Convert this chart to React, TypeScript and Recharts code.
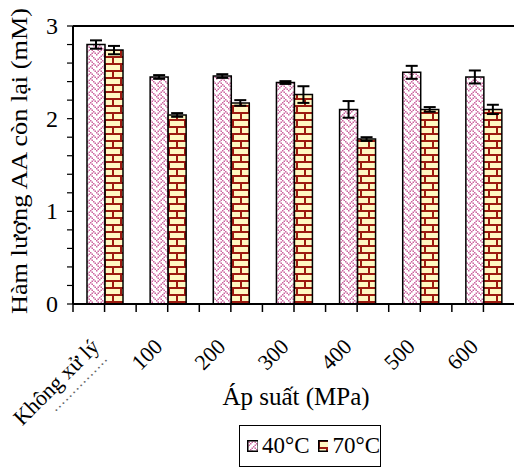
import React from "react";
import { BarChart, Bar, XAxis, YAxis, ErrorBar, ReferenceLine, Legend } from "recharts";

// Hàm lượng AA còn lại sau xử lý áp suất cao, ở 40°C và 70°C
const apSuat = ["Không xử lý", "100", "200", "300", "400", "500", "600"];
const aa40 = [2.8, 2.45, 2.46, 2.39, 2.1, 2.5, 2.45];
const aa70 = [2.74, 2.04, 2.17, 2.26, 1.78, 2.1, 2.1];
const sai40 = [0.045, 0.02, 0.02, 0.015, 0.09, 0.07, 0.07];
const sai70 = [0.045, 0.02, 0.03, 0.09, 0.02, 0.025, 0.05];
const vachY = [0, 0.2, 0.4, 0.6, 0.8, 1, 1.2, 1.4, 1.6, 1.8, 2, 2.2, 2.4, 2.6, 2.8, 3];

const duLieu = apSuat.map((ten, i) => ({
  ten,
  t40: aa40[i],
  e40: sai40[i],
  t70: aa70[i],
  e70: sai70[i],
}));

const FONT = "'Liberation Serif', 'Times New Roman', serif";
const RONG = 520;
const CAO = 472;
const LE = { top: 26, right: 5, bottom: 0, left: 0 };
const TRUC_Y = 73;
const BANG = (RONG - LE.right - TRUC_Y) / apSuat.length;

// bit 8x8 kiểu "weave" của Excel
const weave = [0x88, 0x54, 0x22, 0x45, 0x88, 0x14, 0x22, 0x51];

function MauNen() {
  const o: JSX.Element[] = [];
  weave.forEach((hang, r) => {
    for (let c = 0; c < 8; c++) {
      if (hang & (0x80 >> c)) {
        o.push(<rect key={r + "-" + c} x={c * 1.5} y={r * 1.5} width={1.5} height={1.5} fill="#cc66a0" />);
      }
    }
  });
  return (
    <svg width={0} height={0} style={{ position: "absolute" }}>
      <defs>
        <pattern id="dan-40" patternUnits="userSpaceOnUse" width={12} height={12}>
          <rect width={12} height={12} fill="#fff" />
          {o}
        </pattern>
        <pattern id="gach-70" patternUnits="userSpaceOnUse" width={16} height={14}>
          <rect width={16} height={14} fill="#fff8c2" />
          <rect x={0} y={0} width={16} height={2} fill="#9c1a10" />
          <rect x={0} y={7} width={16} height={2} fill="#9c1a10" />
          <rect x={0} y={2} width={2} height={5} fill="#9c1a10" />
          <rect x={8} y={9} width={2} height={5} fill="#9c1a10" />
        </pattern>
      </defs>
    </svg>
  );
}

function NhanTrucX(props: any) {
  const { x, y, payload, index } = props;
  return (
    <g>
      <line x1={x} y1={y} x2={x} y2={y + 8} stroke="#000" strokeWidth={1.5} />
      <line x1={x - BANG / 2} y1={y} x2={x - BANG / 2} y2={y + 8} stroke="#000" strokeWidth={1.5} />
      <text
        transform={`translate(${x - 4},${y + 44}) rotate(-45)`}
        textAnchor="end"
        fontFamily={FONT}
        fontSize={22}
        fill="#000"
      >
        {payload.value}
      </text>
      {index === 0 && (
        <text
          transform={`translate(${x + 4},${y + 55}) rotate(-45)`}
          textAnchor="end"
          fontFamily={FONT}
          fontSize={16}
          fill="#666"
          letterSpacing={1}
        >
          {"..............."}
        </text>
      )}
    </g>
  );
}

function NhanTrucY(props: any) {
  const { x, y, payload } = props;
  if (!Number.isInteger(payload.value)) return null;
  return (
    <text x={x - 7} y={y} dy={8} textAnchor="end" fontFamily={FONT} fontSize={24} fill="#000">
      {payload.value}
    </text>
  );
}

const tieuDeY = () => (
  <text
    transform="translate(27,161) rotate(-90)"
    textAnchor="middle"
    fontFamily={FONT}
    fontSize={23}
    textLength={306}
    lengthAdjust="spacingAndGlyphs"
    fill="#000"
  >
    Hàm lượng AA còn lại (mM)
  </text>
);

const tieuDeX = () => (
  <text x={296} y={405} textAnchor="middle" fontFamily={FONT} fontSize={25} fill="#000">
    Áp suất (MPa)
  </text>
);

function ChuGiai() {
  const o = (id: string) => (
    <svg width={12} height={12} style={{ display: "block" }}>
      <rect x={0.75} y={0.75} width={10.5} height={10.5} fill={`url(#${id})`} stroke="#000" strokeWidth={1.5} />
    </svg>
  );
  return (
    <div
      style={{
        boxSizing: "border-box",
        width: 142,
        height: 42,
        border: "1px solid #000",
        display: "flex",
        alignItems: "center",
        paddingLeft: 7,
        fontFamily: FONT,
        fontSize: 23,
        color: "#000",
        background: "#fff",
      }}
    >
      {o("dan-40")}
      <span style={{ marginLeft: 4, marginRight: 8 }}>40°C</span>
      {o("gach-70")}
      <span style={{ marginLeft: 4 }}>70°C</span>
    </div>
  );
}

export default function App() {
  return (
    <div style={{ position: "absolute", left: 0, top: 0, width: 514, height: 472, overflow: "hidden", background: "#fff" }}>
      <MauNen />
      <BarChart width={RONG} height={CAO} data={duLieu} margin={LE} barSize={18} barGap={0}>
        <XAxis
          dataKey="ten"
          height={CAO - 304}
          interval={0}
          tickSize={0}
          tickMargin={0}
          tickLine={false}
          axisLine={{ stroke: "#000", strokeWidth: 2 }}
          tick={<NhanTrucX />}
          label={tieuDeX}
        />
        <YAxis
          width={TRUC_Y}
          domain={[0, 3]}
          ticks={vachY}
          interval={0}
          tickSize={6}
          tickLine={{ stroke: "#000", strokeWidth: 1.2 }}
          axisLine={{ stroke: "#000", strokeWidth: 2 }}
          tick={<NhanTrucY />}
          label={tieuDeY}
        />
        <ReferenceLine y={3} stroke="#000" strokeWidth={2} />
        <Bar dataKey="t40" fill="url(#dan-40)" stroke="#000" strokeWidth={1.5} isAnimationActive={false}>
          <ErrorBar dataKey="e40" width={6} stroke="#000" strokeWidth={2} direction="y" isAnimationActive={false} />
        </Bar>
        <Bar dataKey="t70" fill="url(#gach-70)" stroke="#000" strokeWidth={1.5} isAnimationActive={false}>
          <ErrorBar dataKey="e70" width={6} stroke="#000" strokeWidth={2} direction="y" isAnimationActive={false} />
        </Bar>
        <Legend
          verticalAlign="middle"
          content={() => <ChuGiai />}
          wrapperStyle={{ position: "absolute", left: 239, top: 425, width: 142, height: 42 }}
        />
      </BarChart>
    </div>
  );
}
